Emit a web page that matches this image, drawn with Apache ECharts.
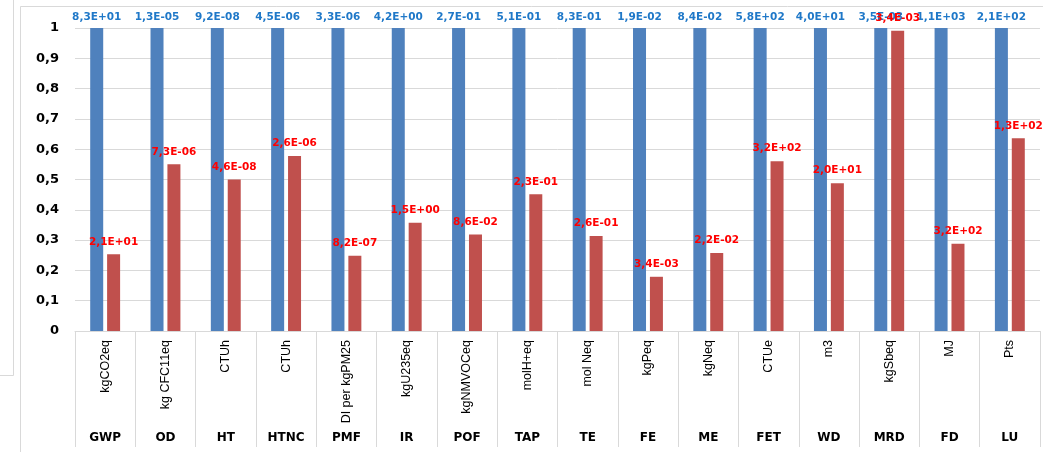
<!DOCTYPE html>
<html>
<head>
<meta charset="utf-8">
<script src="https://cdn.jsdelivr.net/npm/echarts@6/dist/echarts.min.js"></script>
<style>
  html, body { margin: 0; padding: 0; background: #fff; }
  #chart { width: 1051px; height: 452px; }
</style>
</head>
<body>
<div id="chart"></div>
<script>
// Impact categories and their units
const categories = ['GWP', 'OD', 'HT', 'HTNC', 'PMF', 'IR', 'POF', 'TAP', 'TE', 'FE', 'ME', 'FET', 'WD', 'MRD', 'FD', 'LU'];
const units = ['kgCO2eq', 'kg CFC11eq', 'CTUh', 'CTUh', 'DI per kgPM25', 'kgU235eq', 'kgNMVOCeq', 'molH+eq',
               'mol Neq', 'kgPeq', 'kgNeq', 'CTUe', 'm3', 'kgSbeq', 'MJ', 'Pts'];

// Absolute impact values of the two scenarios
const scenarioA = [83, 1.32e-5, 9.2e-8, 4.5e-6, 3.3e-6, 4.2, 0.27, 0.51,
                   0.83, 0.019, 0.084, 578, 40.4, 3.46e-3, 1100, 206];
const scenarioB = [21, 7.26e-6, 4.6e-8, 2.6e-6, 8.2e-7, 1.5, 0.086, 0.23,
                   0.26, 0.0034, 0.0216, 324, 19.7, 3.43e-3, 317, 131];

// Y axis ticks
const yTicks = [0, 0.1, 0.2, 0.3, 0.4, 0.5, 0.6, 0.7, 0.8, 0.9, 1];

// Each category is normalised to the larger scenario
const normA = scenarioA.map((v, i) => v / Math.max(v, scenarioB[i]));
const normB = scenarioB.map((v, i) => v / Math.max(scenarioA[i], v));

function sci(v) {
  const parts = v.toExponential(1).split('e');
  const sign = parts[1][0];
  const exp = parts[1].slice(1).padStart(2, '0');
  return parts[0].replace('.', ',') + 'E' + sign + exp;
}

const chart = echarts.init(document.getElementById('chart'));
const frame = '#d9d9d9';

chart.setOption({
  animation: false,
  backgroundColor: '#ffffff',
  grid: { left: 75, right: 11, top: 28, bottom: 121, containLabel: false },
  graphic: [
    { type: 'line', shape: { x1: 13.5, y1: 0, x2: 13.5, y2: 375.5 }, style: { stroke: frame, lineWidth: 1 }, silent: true },
    { type: 'line', shape: { x1: 0, y1: 375.5, x2: 13.5, y2: 375.5 }, style: { stroke: frame, lineWidth: 1 }, silent: true },
    { type: 'line', shape: { x1: 20.5, y1: 6.5, x2: 20.5, y2: 452 }, style: { stroke: frame, lineWidth: 1 }, silent: true },
    { type: 'line', shape: { x1: 20.5, y1: 6.5, x2: 1043, y2: 6.5 }, style: { stroke: frame, lineWidth: 1 }, silent: true }
  ],
  xAxis: [
    {
      type: 'category',
      data: units,
      axisLine: { show: true, lineStyle: { color: frame, width: 1 } },
      axisTick: { show: true, interval: 0, length: 116, lineStyle: { color: frame, width: 1 } },
      axisLabel: {
        interval: 0,
        rotate: 90,
        margin: 9,
        color: '#000',
        fontFamily: 'Liberation Sans',
        fontSize: 12.5
      },
      splitLine: { show: false }
    },
    {
      type: 'category',
      data: categories,
      position: 'bottom',
      axisLine: { show: false },
      axisTick: { show: false },
      axisLabel: {
        interval: 0,
        margin: 101,
        color: '#000',
        fontFamily: 'DejaVu Sans',
        fontWeight: 'bold',
        fontSize: 12
      },
      splitLine: { show: false }
    }
  ],
  yAxis: {
    type: 'value',
    min: yTicks[0],
    max: yTicks[yTicks.length - 1],
    interval: 0.1,
    axisLine: { show: false },
    axisTick: { show: false },
    splitLine: { show: true, lineStyle: { color: frame, width: 1 } },
    axisLabel: {
      margin: 16,
      color: '#000',
      fontFamily: 'DejaVu Sans',
      fontWeight: 'bold',
      fontSize: 13,
      formatter: v => String(Math.round(v * 10) / 10).replace('.', ',')
    }
  },
  series: [
    {
      type: 'bar',
      xAxisIndex: 0,
      data: normA,
      barWidth: 13,
      barGap: '30%',
      itemStyle: { color: '#4f81bd' },
      label: {
        show: true,
        position: 'top',
        distance: 5,
        color: '#1f78c8',
        fontFamily: 'DejaVu Sans',
        fontWeight: 'bold',
        fontSize: 10.5,
        formatter: p => sci(scenarioA[p.dataIndex])
      }
    },
    {
      type: 'bar',
      xAxisIndex: 0,
      data: normB,
      barWidth: 13,
      barGap: '30%',
      itemStyle: { color: '#c0504d' },
      label: {
        show: true,
        position: 'top',
        distance: 7,
        color: '#ff0000',
        fontFamily: 'DejaVu Sans',
        fontWeight: 'bold',
        fontSize: 10.5,
        formatter: p => sci(scenarioB[p.dataIndex])
      }
    }
  ]
});
</script>
</body>
</html>
